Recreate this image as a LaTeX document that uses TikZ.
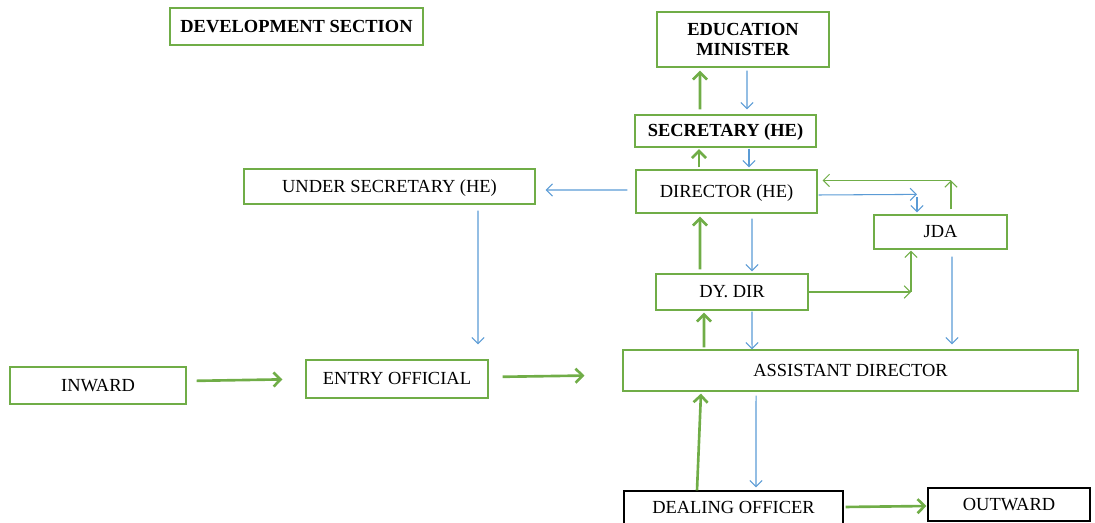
\documentclass[tikz,border=0pt]{standalone}
\usepackage{fontspec}
\setmainfont{Liberation Serif}
\usetikzlibrary{arrows.meta}
\definecolor{flowgreen}{RGB}{112,173,71}
\definecolor{flowblue}{RGB}{91,155,213}

\begin{document}
\begin{tikzpicture}[x=0.02cm,y=-0.02cm,
  font=\fontsize{10.5}{12.5}\selectfont,
  frame/.style={draw=flowgreen,line width=0.7pt,inner sep=0pt,align=center},
  box/.style={frame,text height=1.43ex,text depth=0pt},
  plainbox/.style={box,draw=black},
  gthick/.style={draw=flowgreen,line width=1.5pt,every edge/.append style={-{Straight Barb[length=4pt,width=8pt]}}},
  gthin/.style={draw=flowgreen,line width=0.6pt,every edge/.append style={-{Straight Barb[length=3.5pt,width=7pt]}}},
  bthin/.style={draw=flowblue,line width=0.6pt,every edge/.append style={-{Straight Barb[length=3.5pt,width=7pt]}}}]
\useasboundingbox (0,0) rectangle (1095,523);

\node[box,minimum width=5.06cm,minimum height=0.74cm] (devsec) at (296.5,26.5) {\textbf{DEVELOPMENT SECTION}};
\node[frame,minimum width=3.44cm,minimum height=1.1cm] (minister) at (743,39.5) {\textbf{EDUCATION}\\[-1pt]\textbf{MINISTER}};
\node[box,minimum width=3.62cm,minimum height=0.64cm] (secy) at (725.5,131) {\textbf{SECRETARY (HE)}};
\node[box,minimum width=3.62cm,minimum height=0.86cm] (dir) at (726.5,191.5) {DIRECTOR (HE)};
\node[box,minimum width=5.82cm,minimum height=0.7cm] (usecy) at (389.5,186.5) {UNDER SECRETARY (HE)};
\node[box,minimum width=2.66cm,minimum height=0.68cm] (jda) at (940.5,232) {JDA};
\node[box,minimum width=3.04cm,minimum height=0.72cm] (dydir) at (732,292) {DY. DIR};
\node[box,minimum width=9.1cm,minimum height=0.82cm] (asstdir) at (850.5,370.5) {ASSISTANT DIRECTOR};
\node[box,minimum width=3.52cm,minimum height=0.74cm] (inward) at (98,385.5) {INWARD};
\node[box,minimum width=3.64cm,minimum height=0.76cm] (entry) at (397,379) {ENTRY OFFICIAL};
\node[plainbox,minimum width=4.38cm,minimum height=0.68cm] (dealing) at (733.5,508) {DEALING OFFICER};
\node[plainbox,minimum width=3.24cm,minimum height=0.66cm] (outward) at (1009,504.5) {OUTWARD};

\coordinate (jdaup) at ([xshift=0.21cm,yshift=0.68cm]jda.north);
\coordinate (dirjda) at ([xshift=-0.47cm,yshift=0.4cm]jda.north);
\path ([xshift=-0.59cm]jda.south) coordinate (jdalow);
\coordinate (dyjda) at (jdalow |- dydir.east);

\draw[gthick]
  ([xshift=-0.51cm]secy.north) edge[shorten <=0.1cm,shorten >=0.06cm] ([xshift=-0.86cm]minister.south)
  ([xshift=-0.55cm]dir.north) edge[shorten <=0.04cm,shorten >=0.03cm] ([xshift=-0.53cm]secy.south)
  ([xshift=-0.64cm]dydir.north) edge[shorten <=0.08cm,shorten >=0.06cm] ([xshift=-0.53cm]dir.south)
  ([xshift=-2.93cm]asstdir.north) edge[shorten <=0.04cm,shorten >=0.04cm] ([xshift=-0.56cm]dydir.south)
  ([xshift=-0.73cm]dealing.north) edge[shorten >=0.04cm] ([xshift=-2.99cm]asstdir.south)
  ([yshift=0.09cm]inward.east) edge[shorten <=0.2cm,shorten >=0.46cm] (entry.west)
  ([yshift=0.04cm]entry.east) edge[shorten <=0.28cm,shorten >=0.76cm] ([yshift=-0.09cm]asstdir.west)
  ([yshift=0.02cm]dealing.east) edge[shorten <=0.04cm,shorten >=0.02cm] ([yshift=-0.03cm]outward.west);

\draw[gthin]
  ([xshift=0.21cm]jda.north) edge[shorten <=0.1cm] (jdaup)
  (jdaup) edge[shorten >=0.1cm] (jdaup -| dir.east)
  (dydir.east) edge (dyjda)
  (dyjda) edge[shorten >=0.02cm] (jdalow);

\draw[bthin]
  ([xshift=0.08cm]minister.south) edge[shorten <=0.06cm,shorten >=0.1cm] ([xshift=0.43cm]secy.north)
  ([xshift=0.47cm]secy.south) edge[shorten <=0.02cm,shorten >=0.04cm] ([xshift=0.45cm]dir.north)
  ([yshift=0.03cm]dir.west) edge[shorten <=0.16cm,shorten >=0.2cm] ([yshift=-0.07cm]usecy.east)
  ([xshift=1.77cm]usecy.south) edge[shorten <=0.12cm,shorten >=0.3cm] ([xshift=1.62cm]entry.north)
  ([xshift=0.51cm]dir.south) edge[shorten <=0.1cm,shorten >=0.04cm] ([xshift=0.4cm]dydir.north)
  ([yshift=-0.07cm]dir.east) edge[shorten <=0.02cm] (dirjda)
  (dirjda) edge[shorten <=0.06cm,shorten >=0.04cm] (dirjda |- jda.north)
  ([xshift=0.23cm]jda.south) edge[shorten <=0.14cm,shorten >=0.1cm] ([xshift=2.03cm]asstdir.north)
  ([xshift=0.4cm]dydir.south) edge[shorten <=0.02cm] ([xshift=-1.97cm]asstdir.north)
  ([xshift=-1.89cm]asstdir.south) edge[shorten <=0.08cm,shorten >=0.06cm] ([xshift=0.45cm]dealing.north);
\end{tikzpicture}
\end{document}
